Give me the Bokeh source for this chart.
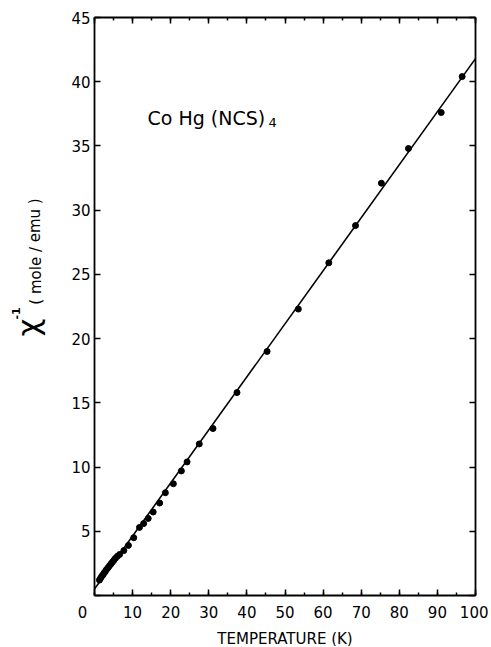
from bokeh.plotting import figure
from bokeh.models import Range1d, LinearAxis, SingleIntervalTicker, Label, ColumnDataSource
from bokeh.embed import file_html
from bokeh.resources import INLINE

# Data
temperature = [1.3, 1.6, 1.9, 2.2, 2.5, 2.8, 3.1, 3.5, 3.9, 4.3, 4.7, 5.1, 5.5, 6.0,
               6.6, 7.7, 8.9, 10.3, 11.8, 12.9, 14.1, 15.4, 17.1, 18.6, 20.7, 22.8,
               24.3, 27.5, 31.1, 37.4, 45.3, 53.5, 61.5, 68.5, 75.3, 82.4, 91.0, 96.5]
chi_inv = [1.2, 1.35, 1.5, 1.6, 1.75, 1.85, 2.0, 2.15, 2.3, 2.45, 2.6, 2.75, 2.9, 3.05,
           3.2, 3.5, 3.9, 4.5, 5.3, 5.6, 6.0, 6.5, 7.2, 8.0, 8.7, 9.7,
           10.4, 11.8, 13.0, 15.8, 19.0, 22.3, 25.9, 28.8, 32.1, 34.8, 37.6, 40.4]
fit_T = [0, 100]
fit_chi = [0.5, 41.8]
x_ticks = list(range(0, 101, 10))
y_ticks = list(range(0, 46, 5))
x_lim = (0, 100)
y_lim = (0, 45)

FONT = "DejaVu Sans"

# canvas and plot-box geometry (pixels)
W, H = 488, 646
FL, FR, FT, FB = 94, 475, 17, 595
sx = (FR - FL) / (x_lim[1] - x_lim[0])
sy = (FB - FT) / (y_lim[1] - y_lim[0])


def dx(px):
    return x_lim[0] + (px - FL) / sx


def dy(py):
    return y_lim[0] + (FB - py) / sy


p = figure(width=W, height=H, output_backend="svg", toolbar_location=None,
           x_range=Range1d(dx(0), dx(W)), y_range=Range1d(dy(H), dy(0)),
           min_border=0, min_border_left=0, min_border_right=0,
           min_border_top=0, min_border_bottom=0)
p.background_fill_color = "white"
p.border_fill_color = "white"
p.outline_line_color = None
p.xgrid.visible = False
p.ygrid.visible = False

AX_W = 1.8

# bottom axis
xa = p.xaxis[0]
xa.fixed_location = y_lim[0]
xa.bounds = x_lim
xa.ticker = SingleIntervalTicker(interval=10, num_minor_ticks=2)
xa.major_tick_in = 6
xa.major_tick_out = 0
xa.minor_tick_in = 3
xa.minor_tick_out = 0
xa.major_tick_line_width = 1.5
xa.minor_tick_line_width = 1.5
xa.axis_line_color = "black"
xa.axis_line_width = AX_W
xa.major_label_overrides = {0: ""}
xa.major_label_text_font = FONT
xa.major_label_text_font_size = "15px"
xa.major_label_text_color = "black"
xa.major_label_standoff = 10
xa.axis_label = "TEMPERATURE (K)"
xa.axis_label_text_font = FONT
xa.axis_label_text_font_size = "15px"
xa.axis_label_text_font_style = "normal"
xa.axis_label_text_color = "black"
xa.axis_label_standoff = 9

# left axis
ya = p.yaxis[0]
ya.fixed_location = x_lim[0]
ya.bounds = y_lim
ya.ticker = SingleIntervalTicker(interval=5, num_minor_ticks=0)
ya.major_tick_in = 6
ya.major_tick_out = 0
ya.minor_tick_in = 0
ya.minor_tick_out = 0
ya.major_tick_line_width = 1.5
ya.axis_line_color = "black"
ya.axis_line_width = AX_W
ya.major_label_overrides = {0: ""}
ya.major_label_text_font = FONT
ya.major_label_text_font_size = "15px"
ya.major_label_text_color = "black"
ya.major_label_standoff = 4

# top axis (ticks only)
top = LinearAxis(fixed_location=y_lim[1], bounds=x_lim,
                 ticker=SingleIntervalTicker(interval=10, num_minor_ticks=2),
                 major_tick_in=6, major_tick_out=0, minor_tick_in=3, minor_tick_out=0,
                 major_tick_line_width=1.5, minor_tick_line_width=1.5,
                 axis_line_color="black", axis_line_width=AX_W, major_label_standoff=0,
                 major_label_overrides={t: "" for t in x_ticks})
p.add_layout(top, "above")

# right axis (ticks only)
right = LinearAxis(fixed_location=x_lim[1], bounds=y_lim,
                   ticker=SingleIntervalTicker(interval=5, num_minor_ticks=0),
                   major_tick_in=6, major_tick_out=0, minor_tick_in=0, minor_tick_out=0,
                   major_tick_line_width=1.5,
                   axis_line_color="black", axis_line_width=AX_W, major_label_standoff=0,
                   major_label_overrides={t: "" for t in y_ticks})
p.add_layout(right, "right")

# fitted line and data
p.line(fit_T, fit_chi, line_color="black", line_width=1.6)
src = ColumnDataSource(dict(T=temperature, chi=chi_inv))
p.scatter("T", "chi", source=src, size=6, fill_color="black", line_color="black")

# corner "0" label
p.add_layout(Label(x=dx(82), y=dy(611), text="0",
                   text_font=FONT, text_font_size="15px",
                   text_align="center", text_baseline="middle", text_color="black"))

# y axis label: chi^-1 (mole / emu)
p.add_layout(Label(x=dx(27), y=dy(327), text="χ",
                   text_font=FONT, text_font_size="31px",
                   angle=1.5708, text_align="center", text_baseline="middle",
                   text_color="black"))
p.add_layout(Label(x=dx(15), y=dy(313), text="-1",
                   text_font=FONT, text_font_size="11px",
                   angle=1.5708, text_align="center", text_baseline="middle",
                   text_color="black", text_font_style="bold"))
p.add_layout(Label(x=dx(35), y=dy(251), text="( mole / emu )",
                   text_font=FONT, text_font_size="15px", angle=1.5708,
                   text_align="center", text_baseline="middle", text_color="black"))

# compound label
p.add_layout(Label(x=dx(147), y=dy(117), text="Co Hg (NCS)", text_font=FONT,
                   text_font_size="19px", text_align="left", text_baseline="alphabetic",
                   text_color="black"))
p.add_layout(Label(x=dx(268), y=dy(122), text="4", text_font=FONT,
                   text_font_size="13px", text_align="left", text_baseline="alphabetic",
                   text_color="black"))

open("out.html", "w").write(file_html(p, INLINE))
